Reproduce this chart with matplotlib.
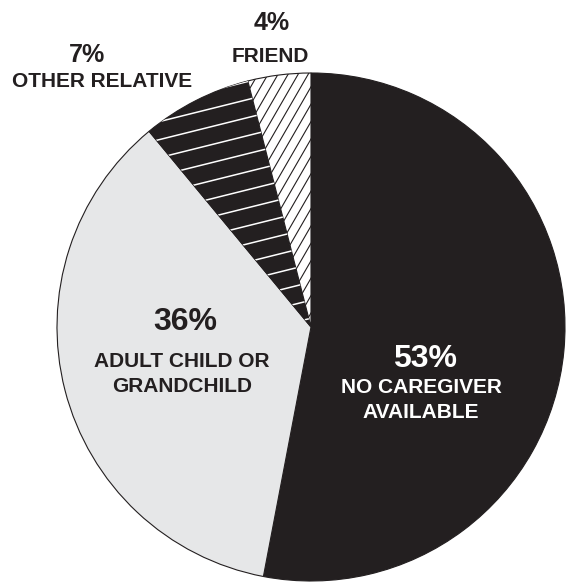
import matplotlib.pyplot as plt
import numpy as np

plt.rcParams['font.family'] = ['Liberation Sans', 'DejaVu Sans']

# slices, clockwise from 12 o'clock
labels = ['NO CAREGIVER\nAVAILABLE', 'ADULT CHILD OR\nGRANDCHILD', 'OTHER RELATIVE', 'FRIEND']
shares = [53, 36, 7, 4]

W, H = 568, 584
ink = '#231f20'
fills = [ink, '#e6e7e8', ink, 'white']
text_colors = ['white', ink, ink, ink]

# text anchors in pixels (x, y from top): baseline of percentage / first label line
pct_pos = [(425, 367), (185, 330), (87, 62), (272, 30)]
lab_pos = [(421, 393), (182, 367), (102, 87), (270, 62)]
pct_size = [23, 23, 18, 18]
line_step = 25

# hatch: (angle deg, spacing px, colour, width) per slice, None = plain
hatches = [None, None, (14, 17.5, 'white', 1.1), (60, 8.7, ink, 0.8)]

fig = plt.figure(figsize=(W / 100, H / 100), dpi=100)
ax = fig.add_axes([0, 0, 1, 1])

wedges, _ = ax.pie(shares, colors=fills, startangle=90, counterclock=False,
                   center=(311, H - 327), radius=254,
                   wedgeprops=dict(edgecolor=ink, linewidth=0.8))
ax.set_xlim(0, W)
ax.set_ylim(0, H)
ax.set_aspect('equal')
ax.axis('off')


def hatch_wedge(w, angle, spacing, color, lw):
    cx, cy = w.center
    r = w.r
    a = np.deg2rad(angle)
    d = np.array([np.cos(a), np.sin(a)])
    n = np.array([-np.sin(a), np.cos(a)])
    for t in np.arange(-r, r, spacing):
        p0 = np.array([cx, cy]) + n * t - d * r
        p1 = np.array([cx, cy]) + n * t + d * r
        ln, = ax.plot([p0[0], p1[0]], [p0[1], p1[1]], color=color, lw=lw,
                      solid_capstyle='butt')
        ln.set_clip_path(w)


for w, h in zip(wedges, hatches):
    if h:
        hatch_wedge(w, *h)

for i, lab in enumerate(labels):
    px, py = pct_pos[i]
    ax.text(px, H - py, f'{shares[i]}%', ha='center', va='baseline',
            fontsize=pct_size[i], fontweight='bold', color=text_colors[i])
    lx, ly = lab_pos[i]
    for k, line in enumerate(lab.split('\n')):
        ax.text(lx, H - (ly + k * line_step), line, ha='center', va='baseline',
                fontsize=15, fontweight='bold', color=text_colors[i])

fig.savefig('out.png', dpi=100)
